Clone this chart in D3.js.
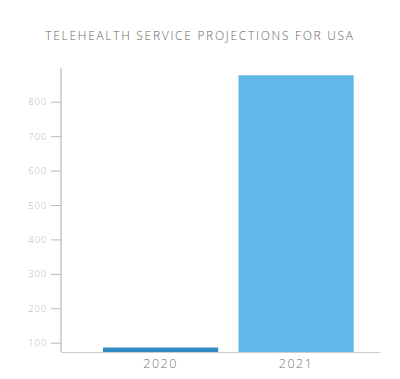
<!DOCTYPE html>
<html><head><meta charset="utf-8">
<script src="https://cdn.jsdelivr.net/npm/d3@7"></script>
<style>body{margin:0;background:#fff;}svg{display:block;}</style>
</head><body>
<svg id="c" width="400" height="379"></svg>
<script>
const title = "TELEHEALTH SERVICE PROJECTIONS FOR USA";
const categories = ["2020", "2021"];
const values = [86, 877];
const barColors = ["#2e8bc1", "#62b7e9"];
const yTicks = [100, 200, 300, 400, 500, 600, 700, 800];

const svg = d3.select("#c");
const y = d3.scaleLinear().domain([73, 898]).range([352, 68]);
const x = d3.scaleBand().domain(categories).range([82.7, 374]).paddingInner(0.15).paddingOuter(0.15);

svg.append("text").attr("x", 200).attr("y", 40).attr("text-anchor", "middle")
  .attr("font-family", "'Open Sans', Lato, sans-serif").attr("font-size", 12).attr("font-weight", 300)
  .attr("letter-spacing", 1.7).attr("fill", "#666").text(title);

svg.selectAll("rect.bar").data(categories).enter().append("rect")
  .attr("class", "bar")
  .attr("x", d => x(d)).attr("width", x.bandwidth())
  .attr("y", (d, i) => y(values[i])).attr("height", (d, i) => 352 - y(values[i]))
  .attr("fill", (d, i) => barColors[i]);

const yAxis = svg.append("g").attr("transform", "translate(61,0)")
  .call(d3.axisLeft(y).tickValues(yTicks).tickSize(10).tickPadding(4));
yAxis.select(".domain").remove();
yAxis.selectAll(".tick line").attr("stroke", "#bbb");
yAxis.selectAll(".tick text").attr("fill", "#b8b8b8").attr("font-size", 9.5)
  .attr("font-family", "'Open Sans', Lato, sans-serif").attr("font-weight", 300).attr("letter-spacing", 0.8);
svg.append("line").attr("x1", 61).attr("x2", 61).attr("y1", 68).attr("y2", 352)
  .attr("stroke", "#aaa").attr("stroke-width", 1);

const xAxis = svg.append("g").attr("transform", "translate(0,352)")
  .call(d3.axisBottom(x).tickSize(0).tickPadding(7));
xAxis.select(".domain").remove();
xAxis.selectAll(".tick text").attr("fill", "#777").attr("font-size", 12.5).attr("font-weight", 300)
  .attr("font-family", "'Open Sans', Lato, sans-serif").attr("letter-spacing", 1.5);
svg.append("line").attr("x1", 61).attr("x2", 380).attr("y1", 352.5).attr("y2", 352.5)
  .attr("stroke", "#ccc").attr("stroke-width", 1);
</script>
</body></html>
